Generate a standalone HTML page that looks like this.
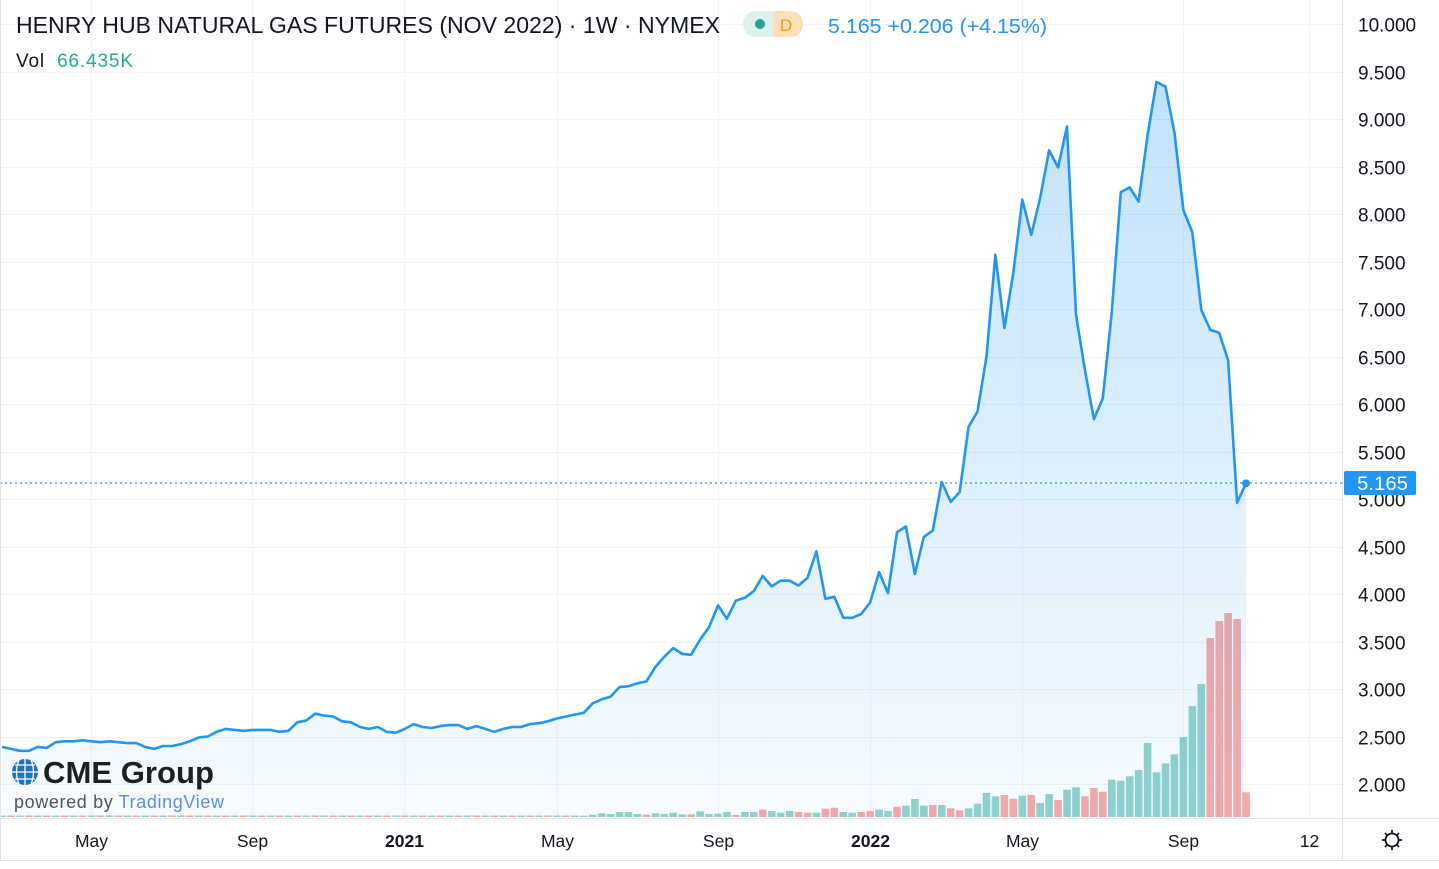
<!DOCTYPE html>
<html><head><meta charset="utf-8"><style>
html,body{margin:0;padding:0;background:#fff;width:1439px;height:869px;overflow:hidden}
svg{display:block;font-family:"Liberation Sans",sans-serif}
</style></head><body>
<svg id="chart" width="1439" height="869" viewBox="0 0 1439 869">
<defs><linearGradient id="fillg" x1="0" y1="0" x2="0" y2="1">
<stop offset="0" stop-color="#2196f3" stop-opacity="0.28"/><stop offset="1" stop-color="#2196f3" stop-opacity="0.04"/></linearGradient></defs>
<g id="grid"></g>
<g id="vol"></g>
<path id="area" fill="url(#fillg)"/>
<path id="line" fill="none" stroke="#2196f3" stroke-width="2.6" stroke-linejoin="round"/>
<line x1="0" x2="1342" y1="483" y2="483" stroke="#2196f3" stroke-width="1.2" stroke-dasharray="2,3"/>
<circle id="lastdot" r="4" fill="#2196f3"/>
<line x1="1342.5" x2="1342.5" y1="0" y2="860" stroke="#e0e3eb"/>
<line x1="0" x2="1439" y1="818.5" y2="818.5" stroke="#e0e3eb"/>
<line x1="0" x2="1439" y1="860.5" y2="860.5" stroke="#e0e3eb"/>
<line x1="0.5" x2="0.5" y1="0" y2="860" stroke="#e0e3eb"/>
<g id="yticks" font-size="19" fill="#131722"></g>
<g id="xticks" font-size="17.5" fill="#131722" text-anchor="middle"></g>
<g>
<rect x="1344" y="471" width="72" height="24" rx="2" fill="#2196f3"/>
<text x="1357" y="490" font-size="19" fill="#fff" textLength="51" lengthAdjust="spacingAndGlyphs">5.165</text></g>
<g transform="translate(1392,840)" stroke="#131722" stroke-width="1.8" fill="none">
<circle r="6.5"/><path d="M0-10V-7M0 7V10M-10 0H-7M7 0H10M-7-7L-5-5M5 5L7 7M-7 7L-5 5M5-5L7-7"/></g>
<text x="16" y="33" font-size="23" fill="#131722" textLength="704" lengthAdjust="spacingAndGlyphs">HENRY HUB NATURAL GAS FUTURES (NOV 2022) · 1W · NYMEX</text>
<g>
<rect x="743" y="11" width="60" height="26" rx="13" fill="#dff1ee"/>
<path d="M773 11h17a13 13 0 0 1 0 26h-17z" fill="#ffdfb6"/>
<circle cx="760" cy="24" r="5" fill="#22a68f"/>
<text x="780" y="31" font-size="17" fill="#ff9800">D</text></g>
<text x="828" y="33" font-size="20" fill="#2196f3" textLength="219" lengthAdjust="spacingAndGlyphs">5.165  +0.206 (+4.15%)</text>
<text x="16" y="67" font-size="19" fill="#131722" textLength="117" lengthAdjust="spacing">Vol <tspan fill="#22ab94" dx="6">66.435K</tspan></text>
<g>
<circle cx="25" cy="772" r="13" fill="#1d74b9"/>
<path d="M12 772h26M25 759v26M15 765h20M15 779h20M19 760q-5 12 0 24M31 760q5 12 0 24" stroke="#fff" stroke-width="1.3" fill="none"/>
<text x="43" y="783" font-size="31" fill="#1f1f1f" font-weight="bold" textLength="171" lengthAdjust="spacingAndGlyphs">CME Group</text>
<text x="14" y="808" font-size="18" fill="#555" textLength="210" lengthAdjust="spacing">powered by <tspan fill="#5b8def">TradingView</tspan></text></g>
</svg>
<script>
const prices=[2.39,2.37,2.35,2.35,2.39,2.38,2.44,2.45,2.45,2.46,2.45,2.44,2.45,2.44,2.43,2.43,2.39,2.37,2.40,2.40,2.42,2.45,2.49,2.50,2.55,2.58,2.57,2.56,2.57,2.57,2.57,2.55,2.56,2.65,2.67,2.74,2.72,2.71,2.66,2.65,2.60,2.58,2.60,2.55,2.54,2.58,2.63,2.60,2.59,2.61,2.62,2.62,2.58,2.61,2.58,2.55,2.58,2.60,2.60,2.63,2.64,2.66,2.69,2.71,2.73,2.75,
2.85,2.89,2.92,3.02,3.03,3.06,3.08,3.23,3.34,3.43,3.37,3.36,3.52,3.65,3.88,3.74,3.93,3.96,4.03,4.19,4.08,4.14,4.14,4.09,4.17,4.45,3.95,3.97,3.75,3.75,3.79,3.91,4.23,4.01,4.65,4.71,4.21,4.60,4.67,
5.18,4.97,5.07,5.76,5.92,6.50,7.57,6.80,7.38,8.15,7.78,8.17,8.67,8.49,8.92,6.94,6.36,5.84,6.06,6.97,8.23,8.28,8.13,8.83,9.39,9.34,8.86,8.04,7.81,6.99,6.78,6.75,6.46,4.96,5.165];
const volumes=[1.5,1.5,1.5,1.5,1.5,1.5,1.5,1.5,1.5,1.5,1.5,1.5,1.5,1.5,1.5,1.5,1.5,1.5,1.5,1.5,1.5,1.5,1.5,1.5,1.5,1.5,1.5,1.5,1.5,1.5,1.5,1.5,1.5,1.5,1.5,1.5,1.5,1.5,1.5,1.5,1.5,1.5,1.5,1.5,1.5,1.5,1.5,1.5,1.5,1.5,1.5,1.5,1.5,1.5,1.5,1.5,1.5,1.5,1.5,1.5,1.5,1.5,1.5,1.5,1.5,
1.3,2.3,3.7,3,5,5,3,2.3,3.7,3,4.3,2.7,2.7,5.7,3,3.3,5,2,5,5,7.3,6,4.3,6,5,4.3,4.3,8.3,9.3,5,4.3,5,6,7.3,6,10.3,11.3,18,11.3,
12,12,8.7,6.7,8.7,13.3,24,20.7,22,18.3,21.3,22,14,23,17,27.3,29.7,20.7,29,25.3,37.3,36.3,40.7,47,74,44.7,53.7,62.7,80,111,133,179,196,204,198,24.7];
const volDir="ududududududududududududududududududududududududududududududududu"+"uuuuuuuduuuuduuuuduuduuuddudduudduuduuu"+"dudduuuudduduuduuddduuuuuuuuuuuddddddddu";
const priceTicks=["2.000","2.500","3.000","3.500","4.000","4.500","5.000","5.500","6.000","6.500","7.000","7.500","8.000","8.500","9.000","9.500","10.000"];
const timeLabels=["May","Sep","2021","May","Sep","2022","May","Sep","12"];
const timeWeeks=[9.9,27.9,44.9,62.0,80.0,97.0,114.0,132.0,146.0];
const boldLabels=["2021","2022"];
const X0=2,DX=8.95,BASE=817;
const x=i=>X0+i*DX;
const y=v=>24+(10-v)*95;
const vy=v=>BASE-v;
const NS="http://www.w3.org/2000/svg";
function mk(tag,attrs,parent){const e=document.createElementNS(NS,tag);for(const k in attrs)e.setAttribute(k,attrs[k]);parent.appendChild(e);return e;}
const grid=document.getElementById('grid'),yt=document.getElementById('yticks'),xt=document.getElementById('xticks'),vol=document.getElementById('vol');
priceTicks.forEach(t=>{const yy=Math.round(y(parseFloat(t)))+0.5;
const l=mk('line',{x1:0,x2:1342,y1:yy,y2:yy,stroke:'#f0f3fa'},grid);


const tx=mk('text',{x:1358,y:yy+7},yt);tx.textContent=t;

});
timeLabels.forEach((t,k)=>{const xx=Math.round(x(timeWeeks[k]))+0.5;
const l=mk('line',{x1:xx,x2:xx,y1:0,y2:818,stroke:'#f0f3fa'},grid);


const tx=mk('text',{x:xx,y:847},xt);tx.textContent=t;
if(boldLabels.includes(t))tx.setAttribute('font-weight','bold');

});
volumes.forEach((v,i)=>{const h=Math.max(v,1);
const r=mk('rect',{x:x(i)-3.8,y:vy(h),width:7.6,height:h,fill:volDir[i]==='d'?'#f7a9a7':'#92d2cc'},vol);

});
let d='';prices.forEach((p,i)=>{d+=(i?'L':'M')+x(i).toFixed(1)+' '+y(p).toFixed(1);});
document.getElementById('line').setAttribute('d',d);
document.getElementById('area').setAttribute('d',d+'L'+x(prices.length-1).toFixed(1)+' '+BASE+'L'+x(0)+' '+BASE+'Z');
const ld=document.getElementById('lastdot');ld.setAttribute('cx',x(prices.length-1));ld.setAttribute('cy',y(prices[prices.length-1]));
</script>
</body></html>
